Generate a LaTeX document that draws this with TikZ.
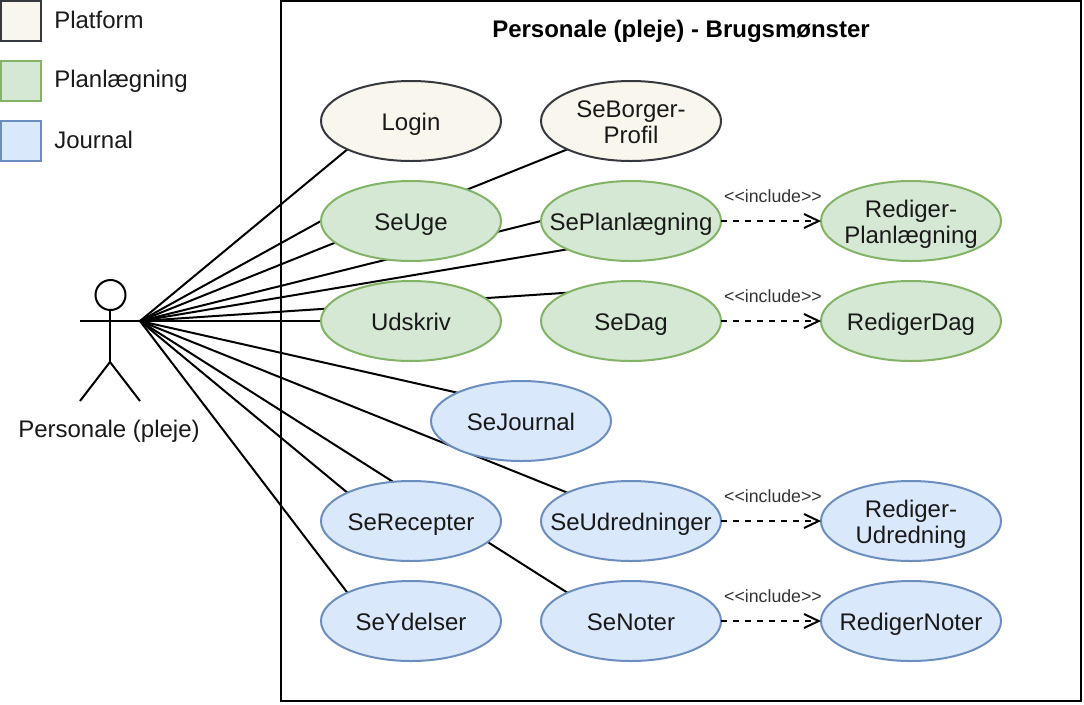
\documentclass[tikz,border=0pt]{standalone}
\usepackage{fontspec}
\setmainfont{Liberation Sans}
\usetikzlibrary{shapes.geometric,arrows.meta,backgrounds}

\definecolor{platformfill}{HTML}{F9F7ED}
\definecolor{platformline}{HTML}{36393D}
\definecolor{planfill}{HTML}{D5E8D4}
\definecolor{planline}{HTML}{82B366}
\definecolor{journalfill}{HTML}{DAE8FC}
\definecolor{journalline}{HTML}{6C8EBF}

\newcommand{\uctext}[1]{\makebox[0pt]{\raisebox{-3.2pt}[\height][\depth]{\begin{tabular}{@{}c@{}}#1\end{tabular}}}}

\begin{document}
\begin{tikzpicture}[x=0.75pt,y=-0.75pt,node distance=75pt]

\tikzstyle{txt} = [font=\fontsize{18pt}{20pt}\selectfont, text=black!90]
\tikzstyle{usecase} = [ellipse, minimum width=135pt, minimum height=60pt, inner sep=0pt, line width=1.5pt, outer sep=0pt, txt]
\tikzstyle{platform} = [usecase, draw=platformline, fill=platformfill]
\tikzstyle{plan} = [usecase, draw=planline, fill=planfill]
\tikzstyle{journal} = [usecase, draw=journalline, fill=journalfill]
\tikzstyle{legend} = [rectangle, minimum size=30pt, inner sep=0pt, line width=1.5pt]
\tikzstyle{legendtxt} = [anchor=base west, inner sep=0pt, txt]
\tikzstyle{assoc} = [line width=1.5pt, black]
\tikzstyle{arrow} = [line width=1.5pt, dash pattern=on 4.5pt off 4.5pt, -{Straight Barb[length=11pt,width=10.5pt]}]
\tikzstyle{incl} = [above, yshift=13.2pt, xshift=1.5pt, inner sep=0pt, font=\fontsize{13.3pt}{16pt}\selectfont, text=black!80]

\useasboundingbox (0,0) rectangle (1084,704);

% legend
\node (lp) [legend, draw=platformline, fill=platformfill] at (21,21) {};
\node (lg) [legend, draw=planline, fill=planfill, below of = lp, node distance=45pt] {};
\node (lj) [legend, draw=journalline, fill=journalfill, below of = lg, node distance=45pt] {};
\node (lpt) [legendtxt] at (54,28.5) {Platform};
\node (lgt) [legendtxt] at (54,87.5) {Planlægning};
\node (ljt) [legendtxt] at (54,148.5) {Journal};

% system frame
\node (frame) [rectangle, draw=black, line width=1.5pt, minimum width=600pt, minimum height=525pt] at (681,351) {};
\node (title) [txt, font=\fontsize{18pt}{20pt}\selectfont\bfseries, text=black] at (681,31) {Personale (pleje) - Brugsmønster};

% actor
\node (head) [circle, draw=black, line width=1.5pt, minimum size=22.5pt, inner sep=0pt] at (110.5,295) {};
\coordinate (hip) at (110,362);
\coordinate (lhand) at (80,321);
\coordinate (hand) at (140,321);
\coordinate (lfoot) at (80,401);
\coordinate (rfoot) at (140,401);
\node (person) [txt] at (109,431) {Personale (pleje)};
\draw [assoc] (hip |- head.south) -- (hip);
\draw [assoc] (lhand) -- (hand);
\draw [assoc] (lfoot) -- (hip) -- (rfoot);

% use cases
\node (login) [platform] at (411,121) {\uctext{Login}};
\node (borger) [platform, right of = login, xshift=90pt] {\uctext{SeBorger-\\Profil}};
\node (uge) [plan, below of = login] {\uctext{SeUge}};
\node (planl) [plan, right of = uge, xshift=90pt] {\uctext{SePlanlægning}};
\node (redplan) [plan, right of = planl, xshift=135pt] {\uctext{Rediger-\\Planlægning}};
\node (udskriv) [plan, below of = uge] {\uctext{Udskriv}};
\node (dag) [plan, right of = udskriv, xshift=90pt] {\uctext{SeDag}};
\node (reddag) [plan, right of = dag, xshift=135pt] {\uctext{RedigerDag}};
\node (sejournal) [journal, below of = udskriv, xshift=82.5pt] {\uctext{SeJournal}};
\node (recepter) [journal, below of = sejournal, xshift=-82.5pt] {\uctext{SeRecepter}};
\node (udred) [journal, right of = recepter, xshift=90pt] {\uctext{SeUdredninger}};
\node (redudred) [journal, right of = udred, xshift=135pt] {\uctext{Rediger-\\Udredning}};
\node (ydelser) [journal, below of = recepter] {\uctext{SeYdelser}};
\node (noter) [journal, right of = ydelser, xshift=90pt] {\uctext{SeNoter}};
\node (rednoter) [journal, right of = noter, xshift=135pt] {\uctext{RedigerNoter}};

\draw [arrow] (planl) -- node[incl] (i1) {<{}<include>{}>} (redplan);
\draw [arrow] (dag) -- node[incl] (i2) {<{}<include>{}>} (reddag);
\draw [arrow] (udred) -- node[incl] (i3) {<{}<include>{}>} (redudred);
\draw [arrow] (noter) -- node[incl] (i4) {<{}<include>{}>} (rednoter);

% associations go behind the ellipses
\begin{pgfonlayer}{background}
\draw [assoc] (hand) -- (login.204);
\draw [assoc] (hand) -- (borger.204);
\draw [assoc] (hand) -- (uge.west);
\draw [assoc] (hand) -- (planl.west);
\draw [assoc] (hand) -- (planl.204);
\draw [assoc] (hand) -- (dag.156);
\draw [assoc] (hand) -- (udskriv.west);
\draw [assoc] (hand) -- (sejournal.156);
\draw [assoc] (hand) -- (udred.156);
\draw [assoc] (hand) -- (recepter.156);
\draw [assoc] (hand) -- (noter.156);
\draw [assoc] (hand) -- (ydelser.156);
\end{pgfonlayer}

\end{tikzpicture}
\end{document}
